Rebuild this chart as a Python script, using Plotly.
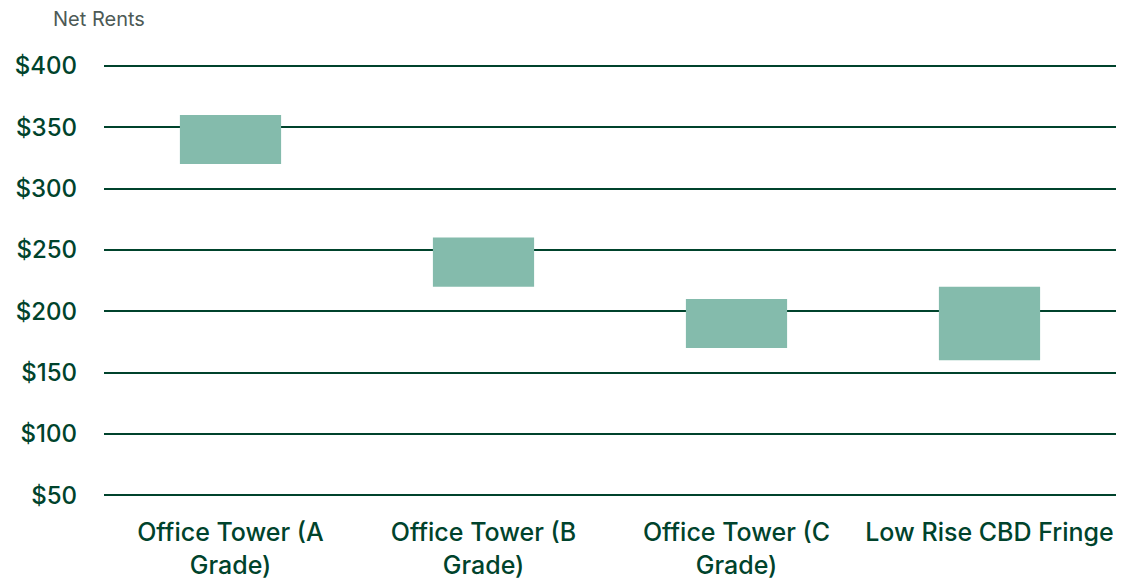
import plotly.graph_objects as go

categories = [
    "Office Tower (A<br>Grade)",
    "Office Tower (B<br>Grade)",
    "Office Tower (C<br>Grade)",
    "Low Rise CBD Fringe",
]
rent_low = [320, 220, 170, 160]
rent_high = [360, 260, 210, 220]
y_ticks = [50, 100, 150, 200, 250, 300, 350, 400]
y_tick_labels = [f"${v}" for v in y_ticks]

DARK = "#00432c"
BAR = "#84bbac"

fig = go.Figure()
fig.add_trace(
    go.Bar(
        x=categories,
        y=[h - l for l, h in zip(rent_low, rent_high)],
        base=rent_low,
        marker={"color": BAR, "line": {"width": 0}},
        hovertemplate="%{x}<br>%{base} - %{y}<extra></extra>",
    )
)

# the page body has an 8px margin, so the figure is sized to fit inside it
fig.update_layout(
    width=1126,
    height=570,
    plot_bgcolor="white",
    paper_bgcolor="white",
    bargap=0.6,
    showlegend=False,
    font={"family": "Inter, Roboto, sans-serif", "color": DARK},
    margin={"l": 96, "r": 18, "t": 56, "b": 81, "autoexpand": False},
    annotations=[
        {
            "text": "Net Rents",
            "xref": "paper",
            "yref": "paper",
            "x": -0.051,
            "y": 1.0,
            "xanchor": "left",
            "yanchor": "bottom",
            "yshift": 32,
            "borderpad": 0,
            "showarrow": False,
            "font": {"size": 20, "color": "#4d5a56"},
        }
    ],
)
fig.update_xaxes(
    showgrid=False,
    showline=False,
    ticks="",
    automargin=False,
    ticklabelstandoff=18,
    tickfont={"size": 25, "color": DARK, "weight": 500},
)
fig.update_yaxes(
    range=[48.5, 401.5],
    tickvals=y_ticks,
    ticktext=y_tick_labels,
    showgrid=True,
    gridcolor=DARK,
    gridwidth=2,
    zeroline=False,
    showline=False,
    ticks="",
    automargin=False,
    ticklabelstandoff=26,
    tickfont={"size": 24, "color": DARK, "weight": 500},
)

fig.write_html("out.html")
